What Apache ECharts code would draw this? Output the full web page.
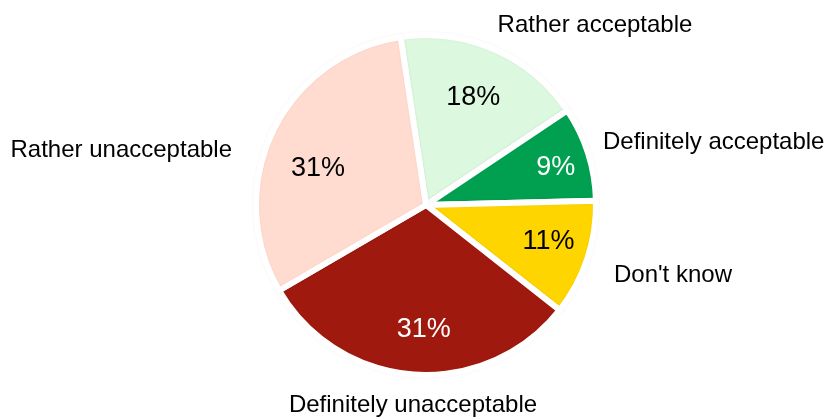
<!DOCTYPE html>
<html>
<head>
<meta charset="utf-8">
<script src="https://cdn.jsdelivr.net/npm/echarts@6/dist/echarts.min.js"></script>
<style>
  html, body { margin: 0; padding: 0; background: #ffffff; }
  #chart { width: 830px; height: 419px; }
</style>
</head>
<body>
<div id="chart"></div>
<script>
// Survey answers, clockwise from just left of 12 o'clock
const categories = ['Rather acceptable', 'Definitely acceptable', "Don't know", 'Definitely unacceptable', 'Rather unacceptable'];
const shares = [18, 9, 11, 31, 31];

const sliceColors = ['#DCF8DE', '#00A050', '#FFD500', '#A0190E', '#FFDCCF'];
const shareTextColors = ['#000000', '#ffffff', '#000000', '#ffffff', '#000000'];

// Pie geometry
const PIE_CENTER = [426, 205];
const PIE_RADIUS = 170;
const START_ANGLE = 98.6;            // ECharts convention: degrees counter-clockwise from 3 o'clock

// Placement of the percentage inside each slice: distance from the centre and a small angular nudge
const shareLabelDistance = [117, 135, 128, 125, 114];
const shareLabelNudge = [0, 1.7, -1.7, -3, -7];

// Placement of the category names around the pie, relative to its centre
const nameLabelOffset = [[169, -180], [177, -63], [188, 70], [-13, 200], [-194, -55]];
const nameLabelAlign = ['center', 'left', 'left', 'center', 'right'];

// Mid angle of each slice, clockwise from 12 o'clock
const total = shares.reduce((a, b) => a + b, 0);
const midAngles = [];
(function () {
  let acc = 0;
  const begin = 90 - START_ANGLE;
  shares.forEach(v => {
    midAngles.push(begin + (acc + v / 2) / total * 360);
    acc += v;
  });
})();

const pieData = categories.map((name, i) => ({
  name: name,
  value: shares[i],
  itemStyle: { color: sliceColors[i] },
  label: { color: shareTextColors[i] }
}));

const chart = echarts.init(document.getElementById('chart'), null, { renderer: 'canvas' });

chart.setOption({
  animation: false,
  backgroundColor: '#ffffff',
  series: [
    {
      type: 'pie',
      center: PIE_CENTER,
      radius: PIE_RADIUS,
      startAngle: START_ANGLE,
      clockwise: true,
      avoidLabelOverlap: false,
      silent: true,
      itemStyle: {
        borderColor: '#ffffff',
        borderWidth: 6,
        shadowBlur: 3,
        shadowColor: 'rgba(0,0,0,0.05)'
      },
      label: {
        show: true,
        position: 'inside',
        formatter: p => p.value + '%',
        fontFamily: '"Liberation Sans", Arial, sans-serif',
        fontSize: 27
      },
      labelLine: { show: false },
      labelLayout: function (params) {
        const i = params.dataIndex;
        const a = (midAngles[i] + shareLabelNudge[i]) * Math.PI / 180;
        const d = shareLabelDistance[i];
        return {
          x: PIE_CENTER[0] + d * Math.sin(a),
          y: PIE_CENTER[1] - d * Math.cos(a),
          align: 'center',
          verticalAlign: 'middle'
        };
      },
      data: pieData
    },
    {
      // Transparent twin carrying the category names
      type: 'pie',
      center: PIE_CENTER,
      radius: PIE_RADIUS,
      startAngle: START_ANGLE,
      clockwise: true,
      avoidLabelOverlap: false,
      silent: true,
      z: 1,
      itemStyle: { color: 'rgba(0,0,0,0)', borderWidth: 0 },
      label: {
        show: true,
        position: 'outside',
        formatter: '{b}',
        color: '#000000',
        fontFamily: '"Liberation Sans", Arial, sans-serif',
        fontSize: 24
      },
      labelLine: { show: false },
      labelLayout: function (params) {
        const i = params.dataIndex;
        return {
          x: PIE_CENTER[0] + nameLabelOffset[i][0],
          y: PIE_CENTER[1] + nameLabelOffset[i][1],
          align: nameLabelAlign[i],
          verticalAlign: 'middle'
        };
      },
      data: categories.map((name, i) => ({ name: name, value: shares[i] }))
    }
  ]
});
</script>
</body>
</html>
